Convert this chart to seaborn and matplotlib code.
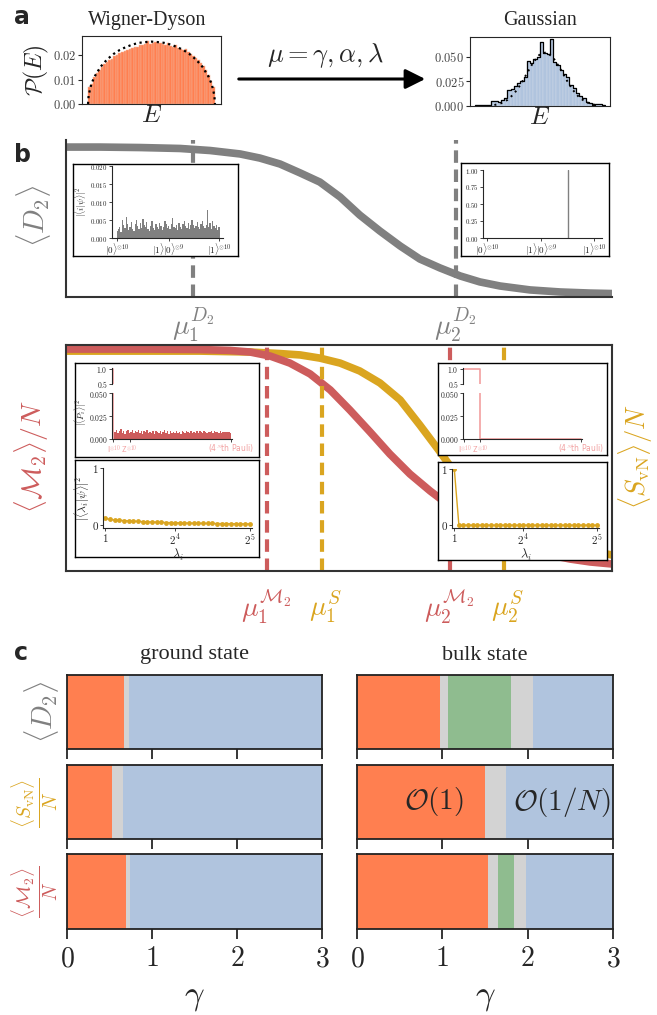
import numpy as np
import pandas as pd
import seaborn as sns
import matplotlib.pyplot as plt

sns.set_style('ticks')
plt.rcParams['font.family'] = ['Liberation Serif', 'DejaVu Serif']
plt.rcParams['mathtext.fontset'] = 'cm'

# colours
CORAL = '#FF7F50'
STEEL = '#B0C4DE'
GREEN = '#8FBC8F'
LGRAY = '#D3D3D3'
GRAY = '#808080'
RED = '#CD5C5C'
GOLD = '#DAA520'
PINK = '#F2A0A0'

# ---------------- data ----------------
# panel a: Wigner-Dyson histogram (50 bins on [-2, 2])
wd_heights = [0.0070, 0.0080, 0.0110, 0.0128, 0.0140, 0.0150, 0.0162, 0.0170, 0.0178, 0.0186,
              0.0195, 0.0200, 0.0208, 0.0213, 0.0218, 0.0222, 0.0226, 0.0230, 0.0232, 0.0234,
              0.0240, 0.0242, 0.0245, 0.0258, 0.0246, 0.0250, 0.0252, 0.0249, 0.0250, 0.0246,
              0.0243, 0.0248, 0.0238, 0.0235, 0.0240, 0.0228, 0.0226, 0.0222, 0.0225, 0.0212,
              0.0205, 0.0198, 0.0188, 0.0178, 0.0168, 0.0155, 0.0140, 0.0120, 0.0092, 0.0070]
wd_curve_E = [-2.0, -1.98, -1.9, -1.8, -1.6, -1.4, -1.2, -1.0, -0.8, -0.6, -0.4, -0.2, 0.0,
              0.2, 0.4, 0.6, 0.8, 1.0, 1.2, 1.4, 1.6, 1.8, 1.9, 1.98, 2.0]
wd_curve_p = [0.0, 0.0036, 0.0080, 0.0111, 0.0153, 0.0182, 0.0204, 0.0221, 0.0233, 0.0243, 0.0250,
              0.0253, 0.0255, 0.0253, 0.0250, 0.0243, 0.0233, 0.0221, 0.0204, 0.0182, 0.0153,
              0.0111, 0.0080, 0.0036, 0.0]

# panel a: Gaussian histogram (40 bins on [-4, 4])
gauss_heights = [0.001, 0.001, 0.001, 0.001, 0.001, 0.005, 0.005, 0.004, 0.006, 0.008,
                 0.016, 0.017, 0.020, 0.023, 0.026, 0.030, 0.046, 0.044, 0.048, 0.050,
                 0.065, 0.054, 0.053, 0.068, 0.045, 0.042, 0.037, 0.033, 0.030, 0.021,
                 0.018, 0.013, 0.010, 0.008, 0.004, 0.003, 0.001, 0.002, 0.002, 0.001]
gauss_curve_E = [-2.8, -2.4, -2.0, -1.6, -1.2, -0.8, -0.4, 0.0, 0.4, 0.8, 1.2, 1.6, 2.0, 2.4, 2.8, 3.2, 3.6]
gauss_curve_p = [0.0010, 0.0027, 0.0062, 0.0124, 0.0217, 0.0334, 0.0449, 0.0530, 0.0548, 0.0496,
                 0.0394, 0.0274, 0.0167, 0.0089, 0.0042, 0.0017, 0.0006]

# panel b: crossover curves (x along the sweep 0..1, y normalised to each axes)
d2_x = [0.0, 0.062, 0.136, 0.209, 0.264, 0.319, 0.355, 0.392, 0.429, 0.465, 0.502, 0.538,
        0.575, 0.612, 0.648, 0.685, 0.722, 0.758, 0.795, 0.850, 0.905, 0.960, 1.0]
d2_y = [0.955, 0.955, 0.952, 0.946, 0.933, 0.911, 0.885, 0.847, 0.790, 0.732, 0.637, 0.522,
        0.420, 0.325, 0.242, 0.185, 0.134, 0.096, 0.070, 0.045, 0.032, 0.025, 0.022]
m2_x = [0.0, 0.154, 0.245, 0.300, 0.337, 0.374, 0.410, 0.447, 0.484, 0.520, 0.557, 0.593,
        0.630, 0.667, 0.703, 0.740, 0.777, 0.813, 0.850, 0.886, 0.923, 0.960, 1.0]
m2_y = [0.982, 0.982, 0.980, 0.976, 0.969, 0.951, 0.920, 0.872, 0.801, 0.712, 0.615, 0.518,
        0.429, 0.354, 0.288, 0.226, 0.168, 0.124, 0.093, 0.071, 0.053, 0.040, 0.031]
svn_x = [0.0, 0.245, 0.337, 0.392, 0.429, 0.465, 0.502, 0.538, 0.575, 0.612, 0.648, 0.685,
         0.722, 0.758, 0.795, 0.832, 0.868, 0.905, 0.941, 0.978, 1.0]
svn_y = [0.973, 0.973, 0.969, 0.962, 0.956, 0.942, 0.920, 0.885, 0.832, 0.757, 0.646, 0.527,
         0.403, 0.314, 0.248, 0.195, 0.150, 0.119, 0.097, 0.080, 0.071]
mu_d2 = [0.233, 0.714]
mu_m2 = [0.368, 0.703]
mu_s = [0.469, 0.802]

# panel b insets: computational-basis amplitudes
basis_left = [0.0020, 0.0025, 0.0030, 0.0018, 0.0050, 0.0035, 0.0028, 0.0058, 0.0040, 0.0022,
              0.0030, 0.0045, 0.0026, 0.0019, 0.0038, 0.0050, 0.0032, 0.0024, 0.0041, 0.0028,
              0.0052, 0.0036, 0.0030, 0.0044, 0.0025, 0.0020, 0.0033, 0.0047, 0.0029, 0.0023,
              0.0039, 0.0031, 0.0026, 0.0042, 0.0034, 0.0021, 0.0030, 0.0046, 0.0038, 0.0027,
              0.0032, 0.0024, 0.0040, 0.0055, 0.0031, 0.0028, 0.0036, 0.0022, 0.0043, 0.0030,
              0.0026, 0.0038, 0.0048, 0.0033, 0.0029, 0.0041, 0.0025, 0.0035, 0.0050, 0.0037,
              0.0027, 0.0032, 0.0044, 0.0030, 0.0024, 0.0039, 0.0046, 0.0033, 0.0028, 0.0036,
              0.0078, 0.0031, 0.0042, 0.0026, 0.0048, 0.0034, 0.0029, 0.0037, 0.0022, 0.0030]
basis_right_idx = [60, 60]
basis_right = [0.0, 1.0]

# Pauli spectra
pauli_left = [0.0080, 0.0095, 0.0060, 0.0088, 0.0105, 0.0070, 0.0092, 0.0058, 0.0083, 0.0100,
              0.0066, 0.0078, 0.0094, 0.0060, 0.0086, 0.0072, 0.0098, 0.0062, 0.0082, 0.0058,
              0.0090, 0.0074, 0.0096, 0.0061, 0.0080, 0.0068, 0.0086, 0.0058, 0.0092, 0.0073,
              0.0065, 0.0084, 0.0059, 0.0078, 0.0097, 0.0066, 0.0082, 0.0057, 0.0088, 0.0070,
              0.0076, 0.0061, 0.0086, 0.0068, 0.0079, 0.0058, 0.0091, 0.0072, 0.0063, 0.0083,
              0.0075, 0.0060, 0.0087, 0.0067, 0.0078, 0.0070, 0.0082, 0.0062, 0.0089, 0.0073,
              0.0065, 0.0084, 0.0076, 0.0068, 0.0080, 0.0071, 0.0088, 0.0064, 0.0083, 0.0075,
              0.0078, 0.0070, 0.0085, 0.0067, 0.0080, 0.0073, 0.0079, 0.0071, 0.0076, 0.0069]
pauli_spike_x = [0, 0]
pauli_spike_y = [1.0, 0.0]
pauli_right_x = [0, 11, 11, 80]
pauli_right_y = [1.0, 1.0, 0.0, 0.0]

# overlaps with eigenstates
lam_idx = list(range(1, 33))
lam_left = [0.12, 0.10, 0.09, 0.085, 0.08, 0.075, 0.07, 0.066, 0.062, 0.058, 0.055, 0.052, 0.049, 0.046,
            0.044, 0.042, 0.040, 0.038, 0.036, 0.034, 0.033, 0.031, 0.030, 0.029, 0.028, 0.027,
            0.026, 0.025, 0.024, 0.023, 0.022, 0.021]
lam_right = [1.0, 0.0, 0.0, 0.0, 0.0, 0.0, 0.0, 0.0, 0.0, 0.0, 0.0, 0.0, 0.0, 0.0, 0.0, 0.0,
             0.0, 0.0, 0.0, 0.0, 0.0, 0.0, 0.0, 0.0, 0.0, 0.0, 0.0, 0.0, 0.0, 0.0, 0.0, 0.0]

# panel c: phase boundaries in gamma
gs_d2 = [0, 0.67, 0.73, 3]
gs_svn = [0, 0.53, 0.655, 3]
gs_m2 = [0, 0.69, 0.74, 3]
gs_cols = [CORAL, LGRAY, STEEL]
bk_d2 = [0, 0.97, 1.07, 1.80, 2.06, 3]
bk_d2_cols = [CORAL, LGRAY, GREEN, LGRAY, STEEL]
bk_svn = [0, 1.50, 1.75, 3]
bk_svn_cols = [CORAL, LGRAY, STEEL]
bk_m2 = [0, 1.53, 1.65, 1.84, 1.98, 3]
bk_m2_cols = [CORAL, LGRAY, GREEN, LGRAY, STEEL]

# ---------------- figure ----------------
W, H = 657, 1015
fig = plt.figure(figsize=(W / 100, H / 100), dpi=100)


def px_axes(x0, y0, x1, y1, **kw):
    return fig.add_axes([x0 / W, 1 - y1 / H, (x1 - x0) / W, (y1 - y0) / H], **kw)


def math_labels(vals, fmt):
    return [('$' + fmt + '$') % v for v in vals]


def weighted_hist(ax, heights, lo, hi, **kw):
    # bars of given heights on equal bins between lo and hi
    edges = np.linspace(lo, hi, len(heights) + 1)
    df = pd.DataFrame({'E': (edges[:-1] + edges[1:]) / 2, 'p': heights})
    sns.histplot(data=df, x='E', weights='p', bins=list(edges), ax=ax, **kw)


def raw_line(ax, x, y, **kw):
    sns.lineplot(x=x, y=y, sort=False, estimator=None, ax=ax, **kw)


# ---- panel a ----
ax = px_axes(82, 36, 221, 104)
weighted_hist(ax, wd_heights, -2, 2, color=CORAL, edgecolor='#F3B59B', linewidth=0.35, alpha=1)
raw_line(ax, wd_curve_E, wd_curve_p, color='black', linewidth=1.6, linestyle=(0, (1, 1.6)))
ax.set_xlim(-2.19, 2.19)
ax.set_ylim(0, 0.0278)
ax.set_xticks([])
ax.set_yticks([0, 0.01, 0.02])
ax.set_yticklabels(math_labels([0, 0.01, 0.02], '%.2f'), fontsize=9, color='#444')
ax.tick_params(length=3, width=0.8, pad=1)
ax.set_xlabel(r'$E$', fontsize=18, labelpad=1)
ax.set_ylabel(r'$\mathcal{P}(E)$', fontsize=17, labelpad=1)

ax = px_axes(470, 37, 610, 106)
weighted_hist(ax, gauss_heights, -4, 4, color=STEEL, edgecolor='#D2DCE9', linewidth=0.3, alpha=1)
weighted_hist(ax, gauss_heights, -4, 4, element='step', fill=False, color='black', linewidth=0.9)
raw_line(ax, gauss_curve_E, gauss_curve_p, color='black', linewidth=1.4, linestyle=(0, (1, 2.2)))
ax.set_xlim(-4.3, 4.3)
ax.set_ylim(0, 0.0704)
ax.set_xticks([])
ax.set_yticks([0, 0.025, 0.05])
ax.set_yticklabels(math_labels([0, 0.025, 0.05], '%.3f'), fontsize=9, color='#444')
ax.tick_params(length=3, width=0.8, pad=1)
ax.set_xlabel(r'$E$', fontsize=18, labelpad=1)
ax.set_ylabel('')

# ---- panel b: main axes ----
axt = px_axes(66, 140, 612, 297)
raw_line(axt, d2_x, d2_y, color=GRAY, linewidth=5.5)
for m in mu_d2:
    axt.axvline(m, color=GRAY, linewidth=3, linestyle=(0, (3, 1.6)))
axt.set_xlim(0, 1)
axt.set_ylim(0, 1)
axt.set_xticks([])
axt.set_yticks([])
for s in ['top', 'right']:
    axt.spines[s].set_visible(False)
for s in ['left', 'bottom']:
    axt.spines[s].set_linewidth(1.5)
    axt.spines[s].set_color('#333')

axb = px_axes(66, 345, 612, 571)
raw_line(axb, svn_x, svn_y, color=GOLD, linewidth=5.5)
raw_line(axb, m2_x, m2_y, color=RED, linewidth=5.5)
for m in mu_m2:
    axb.axvline(m, color=RED, linewidth=3, linestyle=(0, (3, 1.6)))
for m in mu_s:
    axb.axvline(m, color=GOLD, linewidth=3, linestyle=(0, (3, 1.6)))
axb.set_xlim(0, 1)
axb.set_ylim(0, 1)
axb.set_xticks([])
axb.set_yticks([])
for s in axb.spines.values():
    s.set_linewidth(1.5)
    s.set_color('#333')


def box(x0, y0, x1, y1):
    b = px_axes(x0, y0, x1, y1)
    b.set_xticks([])
    b.set_yticks([])
    for s in b.spines.values():
        s.set_linewidth(1.0)
        s.set_color('black')
    return b


def inner(x0, y0, x1, y1):
    a = px_axes(x0, y0, x1, y1, facecolor='none')
    for s in ['top', 'right']:
        a.spines[s].set_visible(False)
    for s in ['left', 'bottom']:
        a.spines[s].set_linewidth(0.8)
    a.tick_params(length=2, width=0.6, pad=1, labelsize=5.5)
    return a


# top-left inset: random state amplitudes
box(73, 164, 238, 256)
a = inner(112, 166, 223, 238)
sns.histplot(x=list(range(len(basis_left))), weights=basis_left, discrete=True, color=GRAY,
             linewidth=0, alpha=1, ax=a)
a.set_xlim(-4, 82)
a.set_ylim(0, 0.02)
a.set_yticks([0, 0.005, 0.01, 0.015, 0.02])
a.set_yticklabels(math_labels([0, 0.005, 0.01, 0.015, 0.02], '%.3f'), fontsize=5)
a.set_xticks([0, 40, 79])
a.set_xticklabels([r'$|0\rangle^{\otimes 10}$', r'$|1\rangle|0\rangle^{\otimes 9}$',
                   r'$|1\rangle^{\otimes 10}$'], fontsize=6.5)
a.set_ylabel(r'$|\langle i|\psi\rangle|^2$', fontsize=6.5, labelpad=1)

# top-right inset: basis state
box(461, 163, 609, 256)
a = inner(483, 170, 602, 238)
raw_line(a, basis_right_idx, basis_right, color=GRAY, linewidth=1.0)
a.set_xlim(-3, 85)
a.set_ylim(0, 1)
a.set_yticks([0, 0.25, 0.5, 0.75, 1.0])
a.set_yticklabels(math_labels([0, 0.25, 0.5, 0.75, 1.0], '%.2f'), fontsize=5)
a.set_xticks([0, 40, 79])
a.set_xticklabels([r'$|0\rangle^{\otimes 10}$', r'$|1\rangle|0\rangle^{\otimes 9}$',
                   r'$|1\rangle^{\otimes 10}$'], fontsize=6.5)


def pauli_inset(x0, x1, right_state):
    au = inner(x0, 368, x1, 384)
    al = inner(x0, 393, x1, 439)
    au.spines['bottom'].set_visible(False)
    au.set_xticks([])
    if right_state:
        for a_ in (au, al):
            raw_line(a_, pauli_right_x, pauli_right_y, color=PINK, linewidth=1.2)
    else:
        sns.histplot(x=list(range(1, len(pauli_left) + 1)), weights=pauli_left, discrete=True,
                     color=RED, linewidth=0, alpha=1, ax=al)
        for a_ in (au, al):
            raw_line(a_, pauli_spike_x, pauli_spike_y, color=PINK, linewidth=1.2)
    for a_ in (au, al):
        a_.set_xlim(-1, 81)
        a_.set_ylabel('')
    au.set_ylim(0.5, 1.02)
    au.set_yticks([0.5, 1.0])
    au.set_yticklabels(['$0.5$', '$1.0$'], fontsize=5.5)
    al.set_ylim(0, 0.05)
    al.set_yticks([0, 0.025, 0.05])
    al.set_yticklabels(math_labels([0, 0.025, 0.05], '%.3f'), fontsize=5.5)
    al.set_xticks([0, 11, 80])
    al.set_xticklabels([r'$\mathsf{I}^{\otimes 10}$', r'$\mathsf{Z}^{\otimes 10}$',
                        '(4$^N$th Pauli)'], fontsize=5.5, color=PINK)
    al.get_xticklabels()[2].set_fontfamily('DejaVu Sans')
    return al


def lam_inset(x0, y0, x1, y1, vals):
    a = inner(x0, y0, x1, y1)
    sns.lineplot(x=lam_idx, y=vals, color=GOLD, linewidth=1.0, marker='o', markersize=3.5,
                 markeredgewidth=0, ax=a)
    a.set_xlim(0.5, 32.5)
    a.set_ylim(-0.05, 1.0)
    a.set_yticks([0, 1])
    a.set_yticklabels(['$0$', '$1$'], fontsize=8)
    a.set_xticks([1, 16, 32])
    a.set_xticklabels(['$1$', '$2^4$', '$2^5$'], fontsize=8)
    a.set_xlabel(r'$\lambda_i$', fontsize=9, labelpad=0)
    return a


# lower-left insets
box(75, 363, 259, 457)
pauli_inset(112, 232, False)
box(75, 460, 259, 557)
a = lam_inset(103, 468, 252, 528, lam_left)
a.set_ylabel(r'$|\langle\lambda_i|\psi\rangle|^2$', fontsize=8.5, labelpad=0)

# lower-right insets
box(438, 363, 607, 455)
pauli_inset(463, 582, True)
box(438, 462, 607, 560)
lam_inset(452, 469, 599, 528, lam_right)

# ---- panel c ----
rows = [(675, 749), (765, 839), (854, 929)]
cols = [(67, 322), (357, 613)]
panel_c = [[(gs_d2, gs_cols), (bk_d2, bk_d2_cols)],
           [(gs_svn, gs_cols), (bk_svn, bk_svn_cols)],
           [(gs_m2, gs_cols), (bk_m2, bk_m2_cols)]]
for r, (y0, y1) in enumerate(rows):
    for c, (x0, x1) in enumerate(cols):
        a = px_axes(x0, y0, x1, y1)
        bounds, colors = panel_c[r][c]
        for i, col in enumerate(colors):
            a.axvspan(bounds[i], bounds[i + 1], color=col, linewidth=0)
        a.set_xlim(0, 3)
        a.set_ylim(0, 1)
        a.set_yticks([])
        a.set_xticks([0, 1, 2, 3])
        a.tick_params(axis='x', length=7, width=1.3, direction='out', pad=6)
        for s in a.spines.values():
            s.set_linewidth(1.3)
            s.set_color('#222')
        if r == 2:
            a.set_xticklabels(['$0$', '$1$', '$2$', '$3$'], fontsize=20)
            a.set_xlabel(r'$\gamma$', fontsize=25, labelpad=6)
        else:
            a.set_xticklabels([])
        if r == 1 and c == 1:
            a.text(0.9, 0.5, r'$\mathcal{O}(1)$', fontsize=21, ha='center', va='center')
            a.text(2.4, 0.5, r'$\mathcal{O}(1/N)$', fontsize=21, ha='center', va='center')

# ---- overlay text ----
ov = fig.add_axes([0, 0, 1, 1], facecolor='none')
ov.axis('off')
ov.set_xlim(0, W)
ov.set_ylim(H, 0)

for lab, y in [('a', 17), ('b', 155), ('c', 653)]:
    ov.text(14, y, lab, fontsize=17, fontweight='bold', fontfamily='DejaVu Sans',
            ha='left', va='center')

ov.text(147, 20, 'Wigner-Dyson', fontsize=14.5, ha='center', va='center')
ov.text(540, 20, 'Gaussian', fontsize=14.5, ha='center', va='center')
ov.annotate('', xy=(428, 79), xytext=(236, 79),
            arrowprops=dict(arrowstyle='-|>', lw=2.2, color='black', mutation_scale=30))
ov.text(325, 55, r'$\mu=\gamma,\alpha,\lambda$', fontsize=19, ha='center', va='center')

ov.text(34, 216, r'$\langle D_2\rangle$', fontsize=21, color=GRAY, rotation=90,
        ha='center', va='center')
ov.text(32, 457, r'$\langle\mathcal{M}_2\rangle/N$', fontsize=20, color=RED, rotation=90,
        ha='center', va='center')
ov.text(636, 457, r'$\langle S_{\rm vN}\rangle/N$', fontsize=19, color=GOLD, rotation=90,
        ha='center', va='center')
ov.text(81, 412, r'$|\langle P_i\rangle|^2$', fontsize=6.5, rotation=90,
        ha='center', va='center')

ov.text(193, 325, r'$\mu_1^{D_2}$', fontsize=20, color=GRAY, ha='center', va='center')
ov.text(455, 325, r'$\mu_2^{D_2}$', fontsize=20, color=GRAY, ha='center', va='center')
ov.text(266, 607, r'$\mu_1^{\mathcal{M}_2}$', fontsize=20, color=RED, ha='center', va='center')
ov.text(326, 607, r'$\mu_1^{S}$', fontsize=20, color=GOLD, ha='center', va='center')
ov.text(449, 607, r'$\mu_2^{\mathcal{M}_2}$', fontsize=20, color=RED, ha='center', va='center')
ov.text(508, 607, r'$\mu_2^{S}$', fontsize=20, color=GOLD, ha='center', va='center')

ov.text(194, 655, 'ground state', fontsize=16, ha='center', va='center')
ov.text(485, 655, 'bulk state', fontsize=16, ha='center', va='center')

ov.text(42, 712, r'$\langle D_2\rangle$', fontsize=21, color=GRAY, rotation=90,
        ha='center', va='center')
ov.text(35, 803, r'$\frac{\langle S_{\rm vN}\rangle}{N}$', fontsize=20, color=GOLD,
        rotation=90, ha='center', va='center')
ov.text(35, 892, r'$\frac{\langle \mathcal{M}_2\rangle}{N}$', fontsize=20, color=RED,
        rotation=90, ha='center', va='center')

fig.savefig('out.png', dpi=100)
